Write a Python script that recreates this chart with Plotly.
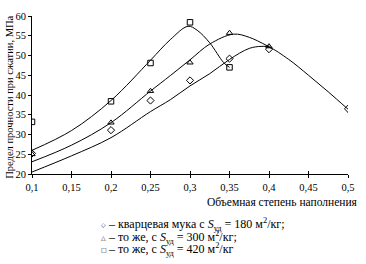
import plotly.graph_objects as go

# --- data ---
x_ticks = [0.1, 0.15, 0.2, 0.25, 0.3, 0.35, 0.4, 0.45, 0.5]
x_ticktext = ["0,1", "0,15", "0,2", "0,25", "0,3", "0,35", "0,4", "0,45", "0,5"]
y_ticks = [20, 25, 30, 35, 40, 45, 50, 55, 60]

# measured points
pts180_x = [0.1, 0.2, 0.25, 0.3, 0.35, 0.4, 0.5]
pts180_y = [25.2, 31.1, 38.6, 43.7, 49.2, 51.6, 36.5]
pts300_x = [0.1, 0.2, 0.25, 0.3, 0.35, 0.4]
pts300_y = [25.0, 33.0, 41.0, 48.2, 55.7, 52.3]
pts420_x = [0.1, 0.2, 0.25, 0.3, 0.35]
pts420_y = [33.2, 38.4, 48.1, 58.4, 47.0]

# fitted curves
fit180_x = [0.1, 0.15, 0.2, 0.25, 0.275, 0.3, 0.325, 0.35, 0.375, 0.39, 0.4, 0.425, 0.45, 0.475, 0.5]
fit180_y = [20.5, 24.6, 29.2, 35.8, 38.8, 42.3, 45.4, 49.0, 51.8, 52.3, 52.1, 49.0, 45.0, 40.8, 36.4]
fit300_x = [0.1, 0.15, 0.2, 0.25, 0.275, 0.3, 0.325, 0.355, 0.375, 0.4]
fit300_y = [23.1, 27.3, 33.0, 41.0, 44.9, 48.9, 52.9, 55.4, 54.6, 52.2]
fit420_x = [0.1, 0.15, 0.2, 0.25, 0.275, 0.2975, 0.309, 0.325, 0.3426, 0.35]
fit420_y = [26.0, 31.0, 38.6, 48.8, 54.0, 57.4, 56.4, 53.2, 48.2, 47.0]

FONT = "Liberation Serif, Times New Roman, serif"
W, H = 366, 264
ML, MR, MT, MB = 32, 13, 11, 90
PW, PH = W - ML - MR, H - MT - MB


def px_x(px):
    return (px - ML) / PW


def px_y(py):
    return (H - MB - py) / PH


fig = go.Figure()
line_style = dict(color="black", width=1, shape="spline", smoothing=1.0)
for fx, fy in [(fit180_x, fit180_y), (fit300_x, fit300_y), (fit420_x, fit420_y)]:
    fig.add_trace(go.Scatter(x=fx, y=fy, mode="lines", line=line_style,
                             showlegend=False, hoverinfo="skip"))

for px_, py_, sym in [(pts180_x, pts180_y, "diamond-open"),
                      (pts300_x, pts300_y, "triangle-up-open"),
                      (pts420_x, pts420_y, "square-open")]:
    fig.add_trace(go.Scatter(x=px_, y=py_, mode="markers",
                             marker=dict(symbol=sym, size=5.5, color="black",
                                         line=dict(color="black", width=1)),
                             showlegend=False))

# dummy trace for overlay axis (ticks crossing the x axis)
fig.add_trace(go.Scatter(x=[None], y=[None], xaxis="x2", yaxis="y",
                         showlegend=False, hoverinfo="skip"))

fig.update_layout(
    width=W, height=H,
    margin=dict(l=ML, r=MR, t=MT, b=MB),
    paper_bgcolor="white", plot_bgcolor="white",
    font=dict(family=FONT, size=10, color="black"),
    xaxis=dict(range=[0.1, 0.5], tickvals=x_ticks, ticktext=x_ticktext,
               showgrid=False, zeroline=False, showline=True, linecolor="black",
               linewidth=1, ticks="outside", ticklen=3, tickcolor="black",
               tickwidth=1, tickfont=dict(family=FONT, size=10.5)),
    xaxis2=dict(range=[0.1, 0.5], tickvals=x_ticks, overlaying="x", anchor="y",
                side="bottom", showgrid=False, zeroline=False, showline=False,
                ticks="inside", ticklen=3, tickcolor="black", tickwidth=1,
                showticklabels=False),
    yaxis=dict(range=[20, 60], tickvals=y_ticks, ticktext=[str(v) for v in y_ticks],
               showgrid=False, zeroline=False,
               showline=True, linecolor="black", linewidth=1, ticks="outside",
               ticklen=3, tickcolor="black", tickwidth=1, showticklabels=True,
               tickfont=dict(family=FONT, size=10.5)),
)

ann = []
ann.append(dict(text="Предел прочности при сжатии, МПа", textangle=-90,
                x=px_x(9), y=px_y(95), xref="paper", yref="paper",
                xanchor="center", yanchor="middle",
                showarrow=False, font=dict(family=FONT, size=10.5)))
ann.append(dict(text="Объемная степень наполнения", x=px_x(365), y=px_y(203),
                xref="paper", yref="paper", xanchor="right", yanchor="middle",
                showarrow=False, font=dict(family=FONT, size=11.5)))

legend_lines = [
    ("◇", "– кварцевая мука с <i>S</i><sub>уд</sub> = 180 м<sup>2</sup>/кг;", 226),
    ("△", "– то же, с <i>S</i><sub>уд</sub> = 300 м<sup>2</sup>/кг;", 239),
    ("□", "– то же, с <i>S</i><sub>уд</sub> = 420 м<sup>2</sup>/кг", 251.5),
]
for sym, txt, yc in legend_lines:
    ann.append(dict(text=sym, x=px_x(105), y=px_y(yc), xref="paper", yref="paper",
                    xanchor="center", yanchor="middle", showarrow=False,
                    font=dict(family="DejaVu Sans", size=6)))
    ann.append(dict(text=txt, x=px_x(107), y=px_y(yc), xref="paper", yref="paper",
                    xanchor="left", yanchor="middle", showarrow=False,
                    font=dict(family=FONT, size=12)))
fig.update_layout(annotations=ann)

fig.write_html("out.html", config={"displayModeBar": False},
               post_script="document.body.style.margin='0';document.body.style.overflow='hidden';")
